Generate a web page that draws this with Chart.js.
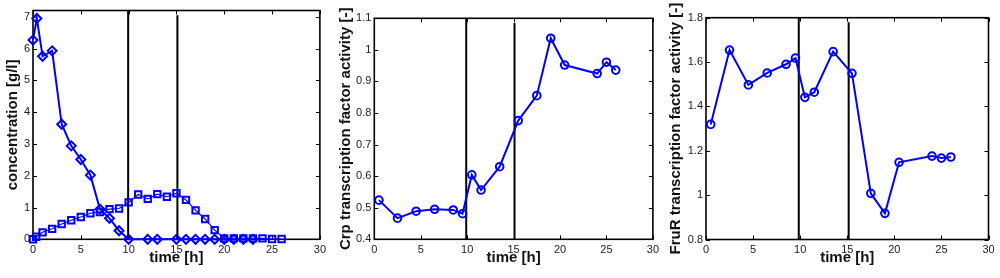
<!DOCTYPE html>
<html lang="en">
  <head>
    <meta charset="UTF-8" />
    <title>Concentration and transcription factor activity</title>
    <script src="https://cdn.jsdelivr.net/npm/chart.js"></script>
    <style>
      body {
        margin: 0;
        background-color: #ffffff;
        width: 1000px;
        height: 278px;
        position: relative;
        overflow: hidden;
      }
      canvas {
        position: absolute;
        top: 0;
      }
    </style>
  </head>
  <body>
    <canvas id="concChart" width="330" height="278" style="left: 0px"></canvas>
    <canvas id="crpChart" width="330" height="278" style="left: 333px"></canvas>
    <canvas id="fruChart" width="337" height="278" style="left: 663px"></canvas>
    <script>
      // panel 1: concentrations [g/l]
      const diamondTime = [0, 0.4, 1, 2, 3, 4, 5, 6, 7, 8, 9, 10, 12, 13, 15, 16, 17, 18, 19, 20, 21, 22, 23];
      const diamondConc = [6.27, 6.95, 5.76, 5.93, 3.62, 2.94, 2.51, 2.02, 0.95, 0.66, 0.27, 0, 0, 0, 0, 0, 0, 0, 0, 0, 0, 0, 0];
      const squareTime = [0, 0.33, 1, 2, 3, 4, 5, 6, 7, 8, 9, 10, 11, 12, 13, 14, 15, 16, 17, 18, 19, 20, 21, 22, 23, 24, 25, 26];
      const squareConc = [0, 0.08, 0.22, 0.33, 0.48, 0.6, 0.7, 0.82, 0.86, 0.95, 0.97, 1.16, 1.41, 1.27, 1.42, 1.34, 1.45, 1.24, 0.91, 0.64, 0.29, 0.03, 0.03, 0.03, 0.03, 0.03, 0.01, 0.01];

      // panels 2 and 3: transcription factor activity [-]
      const activityTime = [0.5, 2.5, 4.5, 6.5, 8.5, 9.5, 10.5, 11.5, 13.5, 15.5, 17.5, 19, 20.5, 24, 25, 26];
      const crpActivity = [0.524, 0.467, 0.489, 0.495, 0.493, 0.481, 0.604, 0.556, 0.63, 0.776, 0.855, 1.037, 0.952, 0.925, 0.961, 0.936];
      const fruRActivity = [1.319, 1.654, 1.497, 1.551, 1.59, 1.618, 1.441, 1.464, 1.647, 1.549, 1.008, 0.918, 1.148, 1.176, 1.167, 1.172];

      // phase boundaries (vertical black lines) per panel
      const phaseConc = [9.95, 15.1];
      const phaseCrp = [9.9, 15.1];
      const phaseFruR = [9.85, 15.15];

      const xTicks = [0, 5, 10, 15, 20, 25, 30];

      const BLUE = "#0000ff";
      const FONT = "'Liberation Sans', Arial, Helvetica, sans-serif";

      // box round the plot area with inward ticks, like the original
      const frame = {
        id: "frame",
        beforeDatasetsDraw(chart) {
          const { ctx, chartArea: a, scales } = chart;
          ctx.save();
          ctx.strokeStyle = "#000";
          ctx.lineWidth = 1;
          ctx.beginPath();
          scales.x.ticks.forEach((t) => {
            const px = Math.round(scales.x.getPixelForValue(t.value)) + 0.5;
            ctx.moveTo(px, a.bottom);
            ctx.lineTo(px, a.bottom - 4);
            ctx.moveTo(px, a.top);
            ctx.lineTo(px, a.top + 4);
          });
          scales.y.ticks.forEach((t) => {
            const py = Math.round(scales.y.getPixelForValue(t.value)) + 0.5;
            ctx.moveTo(a.left, py);
            ctx.lineTo(a.left + 4, py);
            ctx.moveTo(a.right, py);
            ctx.lineTo(a.right - 4, py);
          });
          ctx.stroke();
          ctx.lineWidth = 1.6;
          ctx.strokeRect(a.left, a.top, a.right - a.left, a.bottom - a.top);
          ctx.restore();
        },
      };

      function zip(xs, ys) {
        return xs.map((x, i) => ({ x: x, y: ys[i] }));
      }

      function phaseSets(lines, yMin, yTop) {
        return lines.map((x, i) => ({
          data: [
            { x: x, y: yTop[i] },
            { x: x, y: yMin },
          ],
          borderColor: "#000",
          borderWidth: 2,
          pointRadius: 0,
          clip: false,
        }));
      }

      function series(xs, ys, style, radius, lineWidth) {
        return {
          data: zip(xs, ys),
          borderColor: BLUE,
          borderWidth: lineWidth,
          pointStyle: style,
          pointRadius: radius,
          pointBorderWidth: 2,
          pointBorderColor: BLUE,
          pointBackgroundColor: "rgba(0,0,0,0)",
          tension: 0,
          clip: false,
        };
      }

      function makeChart(id, cfg) {
        return new Chart(document.getElementById(id), {
          type: "line",
          data: { datasets: cfg.datasets },
          plugins: [frame],
          options: {
            responsive: false,
            animation: false,
            layout: { padding: { top: cfg.top, right: cfg.right, left: 0, bottom: 0 } },
            plugins: { legend: { display: false }, tooltip: { enabled: false } },
            scales: {
              x: {
                type: "linear",
                min: 0,
                max: 30,
                afterBuildTicks: (s) => {
                  s.ticks = xTicks.map((v) => ({ value: v }));
                },
                afterFit: (s) => {
                  s.height = 278 - cfg.bottom;
                },
                grid: { display: false, drawTicks: false },
                border: { display: false },
                ticks: { color: "#222", padding: 4, maxRotation: 0, font: { family: FONT, size: 11 } },
                title: {
                  display: true,
                  text: "time [h]",
                  color: "#111",
                  padding: { top: 0, bottom: 11 },
                  font: { family: FONT, size: 15, weight: "bold" },
                },
              },
              y: {
                type: "linear",
                min: cfg.yMin,
                max: cfg.yMax,
                afterBuildTicks: (s) => {
                  s.ticks = cfg.yTicks.map((v) => ({ value: v }));
                },
                afterFit: (s) => {
                  s.width = cfg.axisWidth;
                },
                grid: { display: false, drawTicks: false },
                border: { display: false },
                ticks: {
                  color: "#222",
                  padding: 3,
                  font: { family: FONT, size: 11 },
                  callback: (v) => String(+v.toFixed(2)),
                },
                title: {
                  display: true,
                  text: cfg.yTitle,
                  color: "#111",
                  padding: { top: 4, bottom: 4 },
                  font: { family: FONT, size: 15, weight: "bold" },
                },
              },
            },
          },
        });
      }

      makeChart("concChart", {
        top: 10.5,
        right: 6.3,
        bottom: 239.3,
        axisWidth: 33,
        yMin: 0,
        yMax: 7.2,
        yTicks: [0, 1, 2, 3, 4, 5, 6, 7],
        yTitle: "concentration [g/l]",
        datasets: [
          series(diamondTime, diamondConc, "rectRot", 4.5, 2),
          series(squareTime, squareConc, "rect", 4.5, 1.2),
          ...phaseSets(phaseConc, 0, [7.2, 7.05]),
        ],
      });

      makeChart("crpChart", {
        top: 18.3,
        right: 7,
        bottom: 239.3,
        axisWidth: 41.3,
        yMin: 0.4,
        yMax: 1.1,
        yTicks: [0.4, 0.5, 0.6, 0.7, 0.8, 0.9, 1, 1.1],
        yTitle: "Crp transcription factor activity [-]",
        datasets: [
          series(activityTime, crpActivity, "circle", 3.8, 2),
          ...phaseSets(phaseCrp, 0.4, [1.1, 1.085]),
        ],
      });

      makeChart("fruChart", {
        top: 17.7,
        right: 11.5,
        bottom: 239.5,
        axisWidth: 43,
        yMin: 0.8,
        yMax: 1.8,
        yTicks: [0.8, 1, 1.2, 1.4, 1.6, 1.8],
        yTitle: "FruR transcription factor activity [-]",
        datasets: [
          series(activityTime, fruRActivity, "circle", 3.8, 2),
          ...phaseSets(phaseFruR, 0.8, [1.8, 1.78]),
        ],
      });
    </script>
  </body>
</html>
